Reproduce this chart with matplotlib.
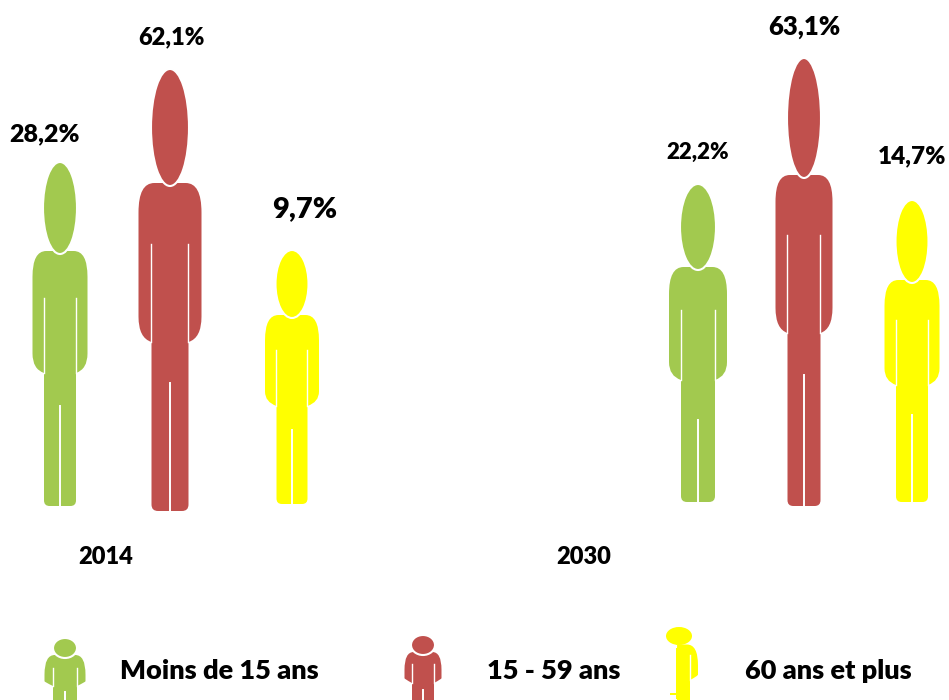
import matplotlib
matplotlib.use('Agg')
import matplotlib.pyplot as plt
from matplotlib.path import Path
from matplotlib.patches import PathPatch, Ellipse, Rectangle

plt.rcParams['font.family'] = ['Lato', 'DejaVu Sans']

# data
years = ['2014', '2030']
groups = ['Moins de 15 ans', '15 - 59 ans', '60 ans et plus']
values_2014 = ['28,2%', '62,1%', '9,7%']
values_2030 = ['22,2%', '63,1%', '14,7%']

GREEN = '#a2c94f'
RED = '#c0504d'
YELLOW = '#ffff00'
colors = [GREEN, RED, YELLOW]

# pictogram layout, pixels: cx, head w, head top, shoulders, body w, slit, arm end, leg w, leg slit, feet
fig_2014 = [
    (60, 34, 162, 252, 55, 298, 373, 32, 406, 506),
    (170, 38, 69, 184, 63, 244, 342, 37, 383, 511),
    (292, 33, 250, 316, 54, 350, 406, 31, 430, 504),
]
fig_2030 = [
    (698, 36, 184, 268, 58, 310, 380, 34, 420, 502),
    (804, 34, 58, 176, 57, 235, 333, 33, 375, 506),
    (912, 33, 200, 281, 55, 320, 385, 32, 415, 502),
]
fig_legend = [
    (65, 24, 638, 656, 41, 668, 686, 24, 692, 720),
    (423, 24, 635, 653, 37, 664, 683, 22, 690, 720),
]
# label x, y, font size
label_pos_2014 = [(45, 134, 18), (171, 37, 17), (305, 209, 21)]
label_pos_2030 = [(698, 152, 16), (804, 27, 18.5), (912, 156, 17.5)]


def person(ax, cx, head_w, head_top, sh, body_w, slit, arm_end, leg_w, leg_slit, feet, color):
    b = body_w / 2
    l = leg_w / 2
    drop = 0.9 * b
    taper = 0.16 * (arm_end - sh)
    foot = 0.35 * l
    verts = [
        (cx - b * 0.5, sh - 1),
        (cx - b, sh - 1), (cx - b, sh + drop),
        (cx - b, arm_end - taper),
        (cx - b, arm_end - 4), (cx - l, arm_end),
        (cx - l, feet - foot),
        (cx - l, feet), (cx - l + foot, feet),
        (cx + l - foot, feet),
        (cx + l, feet), (cx + l, feet - foot),
        (cx + l, arm_end),
        (cx + b, arm_end - 4), (cx + b, arm_end - taper),
        (cx + b, sh + drop),
        (cx + b, sh - 1), (cx + b * 0.5, sh - 1),
        (cx - b * 0.5, sh - 1),
    ]
    codes = [Path.MOVETO, Path.CURVE3, Path.CURVE3, Path.LINETO, Path.CURVE3, Path.CURVE3,
             Path.LINETO, Path.CURVE3, Path.CURVE3, Path.LINETO, Path.CURVE3, Path.CURVE3,
             Path.LINETO, Path.CURVE3, Path.CURVE3, Path.LINETO, Path.CURVE3, Path.CURVE3,
             Path.CLOSEPOLY]
    body = PathPatch(Path(verts, codes), facecolor=color, edgecolor='none', zorder=2)
    ax.add_patch(body)
    # white gaps between arms and legs
    ax.plot([cx - l, cx - l], [slit, arm_end], color='white', lw=1.0, zorder=3)
    ax.plot([cx + l, cx + l], [slit, arm_end], color='white', lw=1.0, zorder=3)
    ax.plot([cx, cx], [leg_slit, feet], color='white', lw=1.4, zorder=3)
    head = Ellipse((cx, (head_top + sh + 2) / 2), head_w, sh + 2 - head_top, facecolor=color,
                   edgecolor='white', lw=1.5, zorder=4)
    ax.add_patch(head)
    return body


fig = plt.figure(figsize=(9.49, 7), dpi=100)
ax = fig.add_axes([0, 0, 1, 1])
ax.set_xlim(0, 949)
ax.set_ylim(700, 0)
ax.axis('off')

for specs, vals, pos in [(fig_2014, values_2014, label_pos_2014), (fig_2030, values_2030, label_pos_2030)]:
    for spec, val, (x, y, size), c in zip(specs, vals, pos, colors):
        person(ax, *spec, c)
        ax.text(x, y, val, ha='center', va='center', fontsize=size, fontweight='heavy', color='black')

ax.text(106, 557, years[0], ha='center', va='center', fontsize=17, fontweight='heavy')
ax.text(584, 557, years[1], ha='center', va='center', fontsize=17, fontweight='heavy')

# legend
person(ax, *fig_legend[0], GREEN)
person(ax, *fig_legend[1], RED)

# the yellow legend figure is only half drawn in the original
half = person(ax, 676, 0.1, 645, 645.5, 44, 655, 680, 28, 700, 720, YELLOW)
half.set_clip_path(Rectangle((676, 640), 30, 70, transform=ax.transData))
ax.add_patch(Ellipse((679, 636), 26, 18, facecolor=YELLOW, edgecolor='none', zorder=4))
ax.add_patch(Rectangle((670, 693), 8, 2, facecolor=YELLOW, edgecolor='none', zorder=2))

ax.text(120, 671, groups[0], ha='left', va='center', fontsize=19.5, fontweight='heavy')
ax.text(487, 671, groups[1], ha='left', va='center', fontsize=19.5, fontweight='heavy')
ax.text(745, 671, groups[2], ha='left', va='center', fontsize=19.5, fontweight='heavy')

fig.savefig('out.png', dpi=100)
plt.close()
